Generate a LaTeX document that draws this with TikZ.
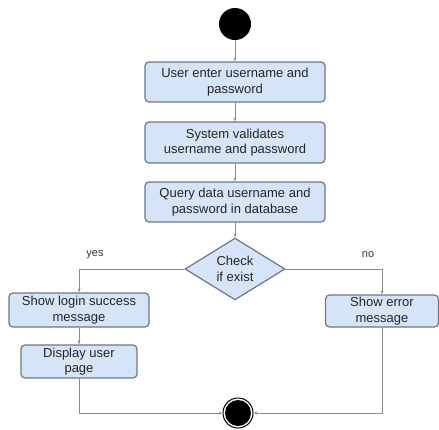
\documentclass[tikz,border=0pt]{standalone}
\usepackage{fontspec}
\setmainfont{Liberation Sans}
\usetikzlibrary{shapes.geometric, arrows.meta}
\definecolor{boxfill}{HTML}{D6E4F7}
\definecolor{boxline}{HTML}{6C7786}
\definecolor{flowline}{HTML}{8C8C8C}

\begin{document}
\begin{tikzpicture}[x=1pt, y=-1pt,
    actbox/.style = {draw=boxline, fill=boxfill, rounded corners=4pt, line width=1.2pt,
        align=center, inner sep=0pt, font=\fontsize{13}{15.5}\selectfont, text=black!85},
    decide/.style = {diamond, draw=boxline, fill=boxfill, line width=1.2pt, align=center,
        inner sep=0pt, minimum width=100pt, minimum height=56pt,
        font=\fontsize{13}{15.5}\selectfont, text=black!85},
    flow/.style = {draw=flowline, line width=1pt, -{Stealth[length=4pt, width=3pt]}},
    branch/.style = {font=\fontsize{11}{13}\selectfont, text=black!80}]
    \useasboundingbox (0,0) rectangle (439,429);
    \node[circle, fill=black, minimum size=32pt, inner sep=0pt] (start) at (235,24) {};
    \node[actbox, minimum width=180pt, minimum height=40pt] (enter) at (235,82)
        {User enter username and\\password};
    \node[actbox, minimum width=180pt, minimum height=41pt] (validate) at (235,142.5)
        {System validates\\username and password};
    \node[actbox, minimum width=180pt, minimum height=40pt] (query) at (235,202)
        {Query data username and\\password in database};
    \node[decide] (check) at (235,269) {Check\\if exist};
    \node[actbox, minimum width=140pt, minimum height=34pt] (success) at (79,310)
        {Show login success\\message};
    \node[actbox, minimum width=116pt, minimum height=33pt] (display) at (79,361.5)
        {Display user\\page};
    \node[actbox, minimum width=113pt, minimum height=32pt] (error) at (382,311)
        {Show error\\message};
    \node[circle, draw=black, line width=1pt, minimum size=30pt, inner sep=0pt] (stop) at (238,413) {};
    \node[circle, fill=black, minimum size=26pt, inner sep=0pt] at (stop) {};
    \node[branch] (yes) at (95,255) {yes};
    \node[branch] (no) at (368,255) {no};
    \draw[flow] (start) -- (enter);
    \draw[flow] (enter) -- (validate);
    \draw[flow] (validate) -- (query);
    \draw[flow] (query) -- (check);
    \draw[flow] (check.west) -| (success.north);
    \draw[flow] (check.east) -| (error.north);
    \draw[flow] (success) -- (display);
    \draw[flow] (display.south) |- (stop.west);
    \draw[flow] (error.south) |- (stop.east);
\end{tikzpicture}
\end{document}
